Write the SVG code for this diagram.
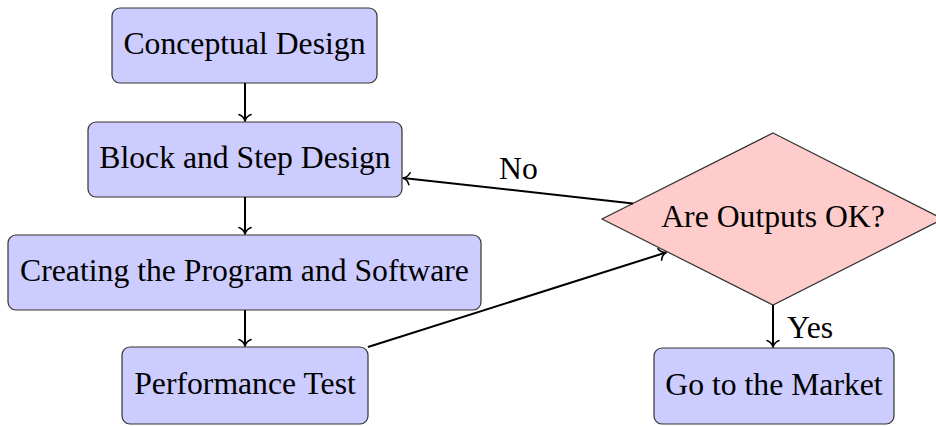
<svg xmlns="http://www.w3.org/2000/svg" width="936" height="426" viewBox="0 0 936 426">
  <style>
    .box { fill: #ccccff; stroke: #333333; stroke-width: 1.2; }
    .dec { fill: #ffcccc; stroke: #333333; stroke-width: 1.2; }
    text { font-family: "Liberation Serif", "Times New Roman", serif; font-size: 31.7px; fill: #000000; }
    .lbl { text-anchor: middle; }
    .conn { stroke: #000000; stroke-width: 2; fill: none; }
  </style>
  <defs>
    <marker id="tip" markerUnits="userSpaceOnUse" markerWidth="14" markerHeight="14" viewBox="-8 -7 10 14" refX="0" refY="0" orient="auto">
      <path d="M-6.5,-6 C-5.2,-2.4 -2.2,-0.6 0,0 C-2.2,0.6 -5.2,2.4 -6.5,6" fill="none" stroke="#000000" stroke-width="1.6" stroke-linecap="round" stroke-linejoin="round"/>
    </marker>
  </defs>

  <g id="conceptual-design">
    <rect class="box" x="112" y="8" width="265" height="75" rx="8"/>
    <text class="lbl" x="244.5" y="54">Conceptual Design</text>
  </g>
  <g id="block-step-design">
    <rect class="box" x="88" y="122" width="314" height="75" rx="8"/>
    <text class="lbl" x="245" y="168">Block and Step Design</text>
  </g>
  <g id="creating-program">
    <rect class="box" x="8" y="235" width="473" height="75" rx="8"/>
    <text class="lbl" x="244.5" y="281">Creating the Program and Software</text>
  </g>
  <g id="performance-test">
    <rect class="box" x="122" y="347" width="246" height="77" rx="8"/>
    <text class="lbl" x="245" y="394">Performance Test</text>
  </g>
  <g id="outputs-ok">
    <polygon class="dec" points="773,133 943,219 773,305 602,219"/>
    <text class="lbl" x="773" y="227">Are Outputs OK?</text>
  </g>
  <g id="go-to-market">
    <rect class="box" x="654" y="348" width="240" height="76" rx="8"/>
    <text class="lbl" x="774" y="395">Go to the Market</text>
  </g>

  <g id="connectors">
    <line class="conn" x1="245" y1="83" x2="245" y2="121" marker-end="url(#tip)"/>
    <line class="conn" x1="245" y1="197" x2="245" y2="234" marker-end="url(#tip)"/>
    <line class="conn" x1="245" y1="310" x2="245" y2="346" marker-end="url(#tip)"/>
    <line class="conn" x1="633" y1="203.4" x2="403" y2="178" marker-end="url(#tip)"/>
    <line class="conn" x1="368" y1="347" x2="666" y2="252.5" marker-end="url(#tip)"/>
    <line class="conn" x1="773" y1="305" x2="773" y2="347" marker-end="url(#tip)"/>
    <text x="499" y="179">No</text>
    <text x="787" y="338">Yes</text>
  </g>
</svg>
